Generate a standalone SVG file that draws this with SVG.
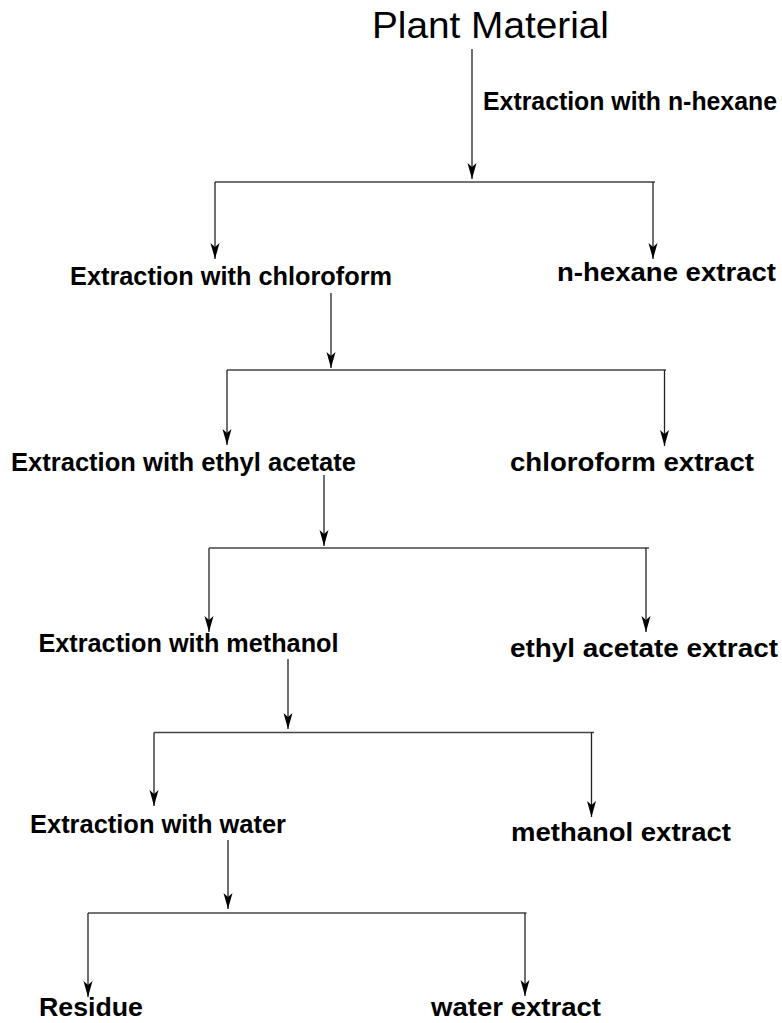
<svg xmlns="http://www.w3.org/2000/svg" width="782" height="1023" viewBox="0 0 782 1023">
<defs>
<marker id="ah" markerUnits="userSpaceOnUse" markerWidth="18" markerHeight="12" viewBox="-16 -6 18 12" refX="0" refY="0" orient="auto">
<path d="M0,0 L-16,-4.5 L-12,0 L-16,4.5 Z" fill="#000"/>
</marker>
</defs>
<style>
.c{stroke:#222;stroke-width:1.3;fill:none}
.h{stroke:#444;stroke-width:1.5;fill:none}
.a{marker-end:url(#ah)}
.t{font-family:"Liberation Sans",Arial,sans-serif;font-weight:bold;font-size:26px;fill:#000}
.title{font-family:"Liberation Sans",Arial,sans-serif;font-size:36px;fill:#000}
</style>
<rect width="782" height="1023" fill="#fff"/>
<g id="connectors">
<line class="c a" x1="472" y1="49" x2="472" y2="179"/>
<line class="h" x1="215" y1="182" x2="655" y2="182"/>
<line class="c a" x1="215" y1="182" x2="215" y2="259"/>
<line class="c a" x1="653" y1="182" x2="653" y2="259"/>

<line class="c a" x1="331" y1="293" x2="331" y2="368"/>
<line class="h" x1="227" y1="370" x2="666" y2="370"/>
<line class="c a" x1="227" y1="370" x2="227" y2="445"/>
<line class="c a" x1="664.5" y1="370" x2="664.5" y2="446"/>

<line class="c a" x1="324" y1="475" x2="324" y2="546"/>
<line class="h" x1="209" y1="548" x2="649" y2="548"/>
<line class="c a" x1="209" y1="548" x2="209" y2="632"/>
<line class="c a" x1="646" y1="548" x2="646" y2="632"/>

<line class="c a" x1="288" y1="659" x2="288" y2="729"/>
<line class="h" x1="154" y1="732.5" x2="594" y2="732.5"/>
<line class="c a" x1="154" y1="732.5" x2="154" y2="806"/>
<line class="c a" x1="591.5" y1="732.5" x2="591.5" y2="817"/>

<line class="c a" x1="228" y1="840" x2="228" y2="909"/>
<line class="h" x1="88" y1="913" x2="526.5" y2="913"/>
<line class="c a" x1="88" y1="913" x2="88" y2="997"/>
<line class="c a" x1="525" y1="913" x2="525" y2="996"/>
</g>
<g id="plant-material"><text class="title" x="372" y="38" textLength="237" lengthAdjust="spacingAndGlyphs">Plant Material</text></g>
<g id="label-hexane"><text class="t" x="483" y="110" font-size="24" textLength="294" lengthAdjust="spacingAndGlyphs">Extraction with n-hexane</text></g>
<g id="extraction-chloroform"><text class="t" x="70" y="285" textLength="322" lengthAdjust="spacingAndGlyphs">Extraction with chloroform</text></g>
<g id="hexane-extract"><text class="t" x="557" y="281" textLength="219" lengthAdjust="spacingAndGlyphs">n-hexane extract</text></g>
<g id="extraction-ethyl-acetate"><text class="t" x="11" y="471" textLength="345" lengthAdjust="spacingAndGlyphs">Extraction with ethyl acetate</text></g>
<g id="chloroform-extract"><text class="t" x="510" y="471" textLength="244" lengthAdjust="spacingAndGlyphs">chloroform extract</text></g>
<g id="extraction-methanol"><text class="t" x="38.5" y="652" textLength="300" lengthAdjust="spacingAndGlyphs">Extraction with methanol</text></g>
<g id="ethyl-acetate-extract"><text class="t" x="510" y="657" textLength="268" lengthAdjust="spacingAndGlyphs">ethyl acetate extract</text></g>
<g id="extraction-water"><text class="t" x="30" y="833" textLength="256" lengthAdjust="spacingAndGlyphs">Extraction with water</text></g>
<g id="methanol-extract"><text class="t" x="511" y="841" textLength="220" lengthAdjust="spacingAndGlyphs">methanol extract</text></g>
<g id="residue"><text class="t" x="39" y="1016" textLength="104" lengthAdjust="spacingAndGlyphs">Residue</text></g>
<g id="water-extract"><text class="t" x="431" y="1016" textLength="170" lengthAdjust="spacingAndGlyphs">water extract</text></g>
</svg>
